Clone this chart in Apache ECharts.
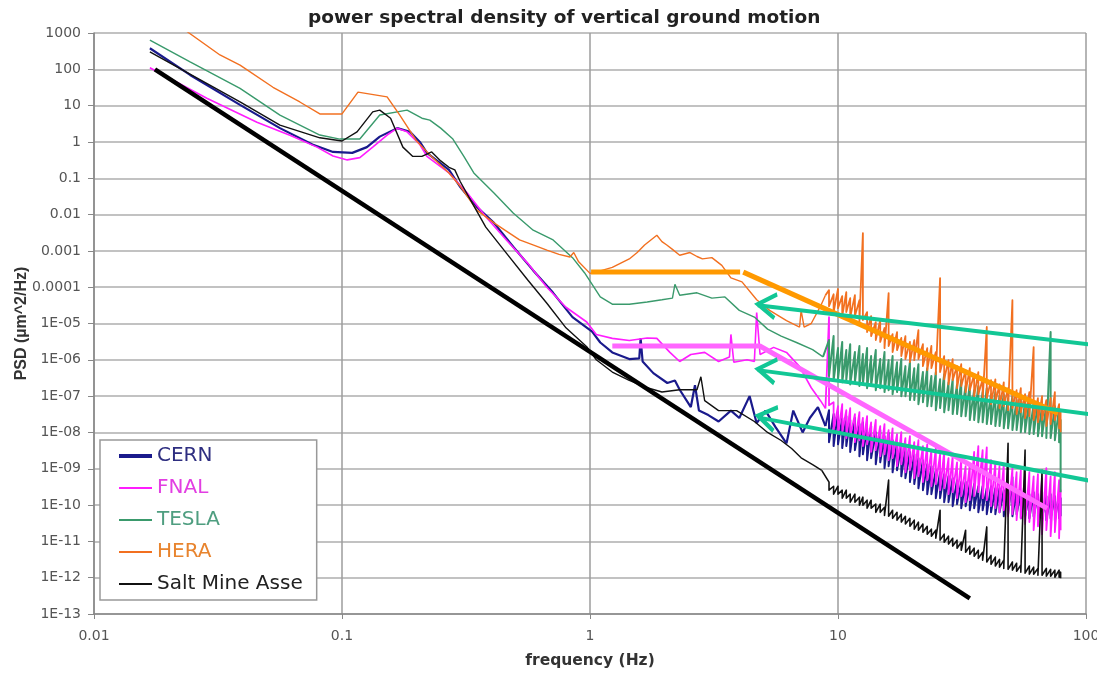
<!DOCTYPE html>
<html>
<head>
<meta charset="utf-8">
<script src="https://cdn.jsdelivr.net/npm/echarts@6/dist/echarts.min.js"></script>
<style>
html,body{margin:0;padding:0;background:#fff;}
#chart{width:1097px;height:674px;}
</style>
</head>
<body>
<div id="chart"></div>
<script>
// ---------- tick labels ----------
const xTickLabels = ['0.01', '0.1', '1', '10', '100'];
const yTickLabels = ['1E-13', '1E-12', '1E-11', '1E-10', '1E-09', '1E-08', '1E-07', '1E-06', '1E-05',
  '0.0001', '0.001', '0.01', '0.1', '1', '10', '100', '1000'];

// ---------- series names ----------
const seriesNames = ['CERN', 'FNAL', 'TESLA', 'HERA', 'Salt Mine Asse'];

// ---------- low-frequency part [frequency Hz, PSD µm^2/Hz] ----------
const cernLow = [[0.0168,380],[0.0244,70],[0.0388,10.5],[0.0562,2.4],[0.076,0.85],[0.092,0.53],[0.11,0.5],[0.126,0.72],[0.142,1.4],[0.167,2.4],[0.188,1.9],[0.206,1.0],[0.22,0.5],[0.27,0.17],[0.3,0.057],[0.35,0.016],[0.41,0.0059],[0.49,0.0013],[0.59,2.9e-4],[0.71,7e-5],[0.85,1.5e-5],[1.02,6e-6],[1.1,3e-6],[1.23,1.6e-6],[1.44,1.05e-6],[1.58,1.1e-6],[1.6,3.9e-6],[1.63,9e-7],[1.8,4.3e-7],[2.05,2.3e-7],[2.2,2.7e-7],[2.3,1.5e-7],[2.55,5e-8],[2.65,2e-7],[2.75,4e-8],[3.0,3e-8],[3.3,2e-8],[3.7,4e-8],[4.0,2.5e-8],[4.4,1e-7],[4.7,1.8e-8],[5.1,4e-8],[5.6,1.4e-8],[6.2,5e-9],[6.6,4e-8],[7.2,1e-8],[7.7,2.5e-8],[8.3,5e-8],[8.9,1.5e-8]];
const fnalLow = [[0.0168,110],[0.0285,16],[0.0454,3.5],[0.062,1.5],[0.0793,0.72],[0.092,0.41],[0.105,0.32],[0.118,0.37],[0.133,0.72],[0.152,1.55],[0.167,2.4],[0.183,1.9],[0.206,0.85],[0.22,0.4],[0.27,0.14],[0.32,0.039],[0.38,0.0087],[0.46,0.002],[0.56,4.6e-4],[0.67,1e-4],[0.8,2.8e-5],[0.97,1.1e-5],[1.06,5e-6],[1.23,3.9e-6],[1.44,3.4e-6],[1.7,4e-6],[1.86,3.9e-6],[2.1,1.6e-6],[2.3,9e-7],[2.55,1.4e-6],[2.9,1.6e-6],[3.3,9e-7],[3.65,1.2e-6],[3.7,5e-6],[3.8,8.6e-7],[4.3,1e-6],[4.6,9e-7],[4.7,2e-5],[4.85,1.4e-6],[5.5,2.2e-6],[6.2,1.6e-6],[7.0,6.5e-7],[7.8,1.7e-7],[8.5,7.5e-8],[8.9,4.6e-8]];
const teslaLow = [[0.0168,640],[0.0244,160],[0.0388,30],[0.0562,5.5],[0.0814,1.55],[0.098,1.2],[0.118,1.2],[0.142,5.5],[0.183,7.5],[0.21,4.5],[0.226,4],[0.25,2.4],[0.28,1.2],[0.31,0.4],[0.34,0.14],[0.41,0.039],[0.49,0.011],[0.59,0.0037],[0.71,0.002],[0.85,6.5e-4],[0.95,2.5e-4],[1.02,1.2e-4],[1.1,5.4e-5],[1.23,3.4e-5],[1.44,3.4e-5],[1.7,3.9e-5],[1.95,4.5e-5],[2.15,5e-5],[2.2,1.2e-4],[2.3,6e-5],[2.7,7e-5],[3.1,5e-5],[3.5,5.4e-5],[4.0,2.3e-5],[4.6,1.5e-5],[5.2,7e-6],[5.9,4.5e-6],[6.8,3e-6],[7.9,1.9e-6],[8.7,1.2e-6]];
const heraLow = [[0.0237,1100],[0.0322,248],[0.0388,131],[0.0527,32],[0.0676,12.6],[0.0814,5.9],[0.1,5.9],[0.116,23.6],[0.152,17.4],[0.171,5.5],[0.2,1.06],[0.226,0.44],[0.27,0.14],[0.3,0.06],[0.35,0.0132],[0.41,0.0059],[0.46,0.0035],[0.52,0.002],[0.6,0.0014],[0.67,0.00105],[0.75,0.0008],[0.83,0.00068],[0.86,0.0009],[0.9,0.0005],[1.0,0.00024],[1.1,0.00028],[1.23,0.00035],[1.44,0.0006],[1.55,0.0009],[1.66,0.00145],[1.86,0.0027],[1.95,0.0018],[2.04,0.00145],[2.15,0.0011],[2.3,0.00076],[2.53,0.0009],[2.7,0.0007],[2.84,0.0006],[3.1,0.00065],[3.4,0.0004],[3.7,0.00018],[4.1,0.00014],[4.7,4.5e-5],[5.3,2.3e-5],[6.2,1.2e-5],[7.0,8e-6],[7.1,2.3e-5],[7.3,8e-6],[7.8,1e-5],[8.5,3e-5],[8.9,6e-5]];
const saltLow = [[0.0168,300],[0.0388,12.6],[0.0562,2.9],[0.0814,1.3],[0.1,1.06],[0.115,1.9],[0.133,6.7],[0.142,7.5],[0.157,4.5],[0.176,0.72],[0.193,0.4],[0.21,0.4],[0.23,0.53],[0.25,0.3],[0.27,0.2],[0.285,0.17],[0.3,0.08],[0.33,0.025],[0.38,0.0045],[0.46,8.7e-4],[0.56,1.6e-4],[0.67,3.6e-5],[0.8,7.6e-6],[0.97,2.3e-6],[1.06,1e-6],[1.23,4.6e-7],[1.44,2.7e-7],[1.7,1.7e-7],[1.95,1.3e-7],[2.3,1.5e-7],[2.7,1.5e-7],[2.8,3.4e-7],[2.9,7.5e-8],[3.3,4e-8],[3.9,4e-8],[4.6,2e-8],[5.2,1e-8],[5.9,6e-9],[6.5,3.6e-9],[7.1,2e-9],[7.9,1.3e-9],[8.6,9e-10]];

// ---------- high-frequency noisy band: shared frequencies, upper and lower readings ----------
const noiseFreq = [9.2,9.6,10.0,10.4,10.8,11.2,11.7,12.2,12.6,13.1,13.6,14.2,14.8,15.4,16.0,16.6,17.3,18.0,18.7,19.5,20.3,21.1,22.0,22.9,23.8,24.8,25.8,26.8,27.9,29.0,30.2,31.4,32.7,34.0,35.4,36.8,38.3,39.8,41.4,43.1,44.8,46.6,48.5,50.5,52.5,54.6,56.8,59.1,61.5,64.0,66.5,69.2,72.0,74.9,77.9,79.0];

const cernUpper = [4.1e-8,3.2e-8,3.6e-8,2.5e-8,2.8e-8,2.2e-8,2.5e-8,1.7e-8,1.9e-8,1.3e-8,1.5e-8,1.02e-8,1.16e-8,7.9e-9,9.6e-9,6.1e-9,5.4e-9,4.2e-9,3.7e-9,2.9e-9,2.5e-9,1.96e-9,1.72e-9,1.33e-9,1.18e-9,9.1e-10,8.0e-10,7.1e-10,6.2e-10,5.5e-10,4.85e-10,4.3e-10,4.3e-10,3.8e-10,3.8e-10,3.3e-10,3.3e-10,2.9e-10,3.3e-10,2.9e-10,2.9e-10,2.57e-10,2.9e-10,5.8e-10,2.57e-10,2.26e-10,2.57e-10,2.0e-10,2.26e-10,2.0e-10,2.26e-10,1.76e-10,2.0e-10,1.76e-10,2.0e-10,1.55e-10];
const cernLower = [5.4e-9,4.2e-9,4.7e-9,3.7e-9,4.2e-9,2.9e-9,3.25e-9,2.2e-9,2.5e-9,1.72e-9,1.96e-9,1.33e-9,1.5e-9,1.04e-9,1.18e-9,8.0e-10,9.1e-10,6.2e-10,5.5e-10,4.3e-10,3.8e-10,2.9e-10,2.57e-10,2.0e-10,2.0e-10,1.55e-10,1.55e-10,1.2e-10,1.2e-10,9.3e-11,1.06e-10,8.2e-11,9.3e-11,7.2e-11,8.2e-11,6.3e-11,7.2e-11,5.6e-11,6.3e-11,5.6e-11,6.3e-11,4.9e-11,5.6e-11,4.9e-11,5.6e-11,4.3e-11,4.9e-11,4.3e-11,4.9e-11,3.84e-11,4.3e-11,3.84e-11,4.3e-11,3.84e-11,4.3e-11,4.9e-11];

const fnalUpper = [1.5e-5,6.8e-8,5.3e-8,6.0e-8,4.1e-8,4.7e-8,3.2e-8,3.6e-8,2.5e-8,2.8e-8,1.9e-8,2.2e-8,1.5e-8,1.7e-8,1.16e-8,1.3e-8,9.0e-9,1.02e-8,7.0e-9,7.9e-9,5.4e-9,6.1e-9,4.2e-9,4.7e-9,3.25e-9,3.7e-9,2.5e-9,2.9e-9,1.96e-9,2.2e-9,1.5e-9,1.72e-9,1.18e-9,1.33e-9,2.9e-9,4.2e-9,3.25e-9,3.9e-9,1.72e-9,1.5e-9,1.18e-9,1.33e-9,9.1e-10,1.04e-9,8.0e-10,9.1e-10,7.1e-10,8.0e-10,6.2e-10,7.1e-10,5.5e-10,1.04e-9,6.2e-10,8.0e-10,4.85e-10,2.57e-10];
const fnalLower = [5.6e-8,1.16e-8,9.0e-9,1.02e-8,7.0e-9,7.9e-9,5.4e-9,6.1e-9,4.2e-9,4.7e-9,2.9e-9,3.25e-9,2.2e-9,2.5e-9,1.72e-9,1.96e-9,1.18e-9,1.33e-9,8.0e-10,9.1e-10,5.5e-10,6.2e-10,4.3e-10,4.85e-10,3.3e-10,3.8e-10,2.57e-10,2.9e-10,2.0e-10,2.26e-10,1.55e-10,1.76e-10,1.2e-10,1.36e-10,1.76e-10,2.26e-10,1.55e-10,1.36e-10,9.3e-11,8.2e-11,6.3e-11,7.2e-11,4.9e-11,5.6e-11,3.84e-11,4.3e-11,3.0e-11,3.4e-11,2.03e-11,2.6e-11,1.58e-11,2.03e-11,1.39e-11,1.79e-11,1.22e-11,2.03e-11];

const teslaUpper = [3.5e-6,4.5e-6,2.1e-6,3.1e-6,1.85e-6,2.7e-6,1.63e-6,2.4e-6,1.44e-6,2.1e-6,1.27e-6,1.85e-6,1.05e-6,1.63e-6,9.8e-7,1.27e-6,8.6e-7,1.05e-6,6.7e-7,8.6e-7,5.9e-7,7.6e-7,4.6e-7,5.9e-7,3.6e-7,4.6e-7,2.9e-7,4.0e-7,2.4e-7,2.9e-7,2.1e-7,2.76e-7,1.9e-7,2.1e-7,1.46e-7,1.9e-7,1.29e-7,1.66e-7,1.13e-7,1.29e-7,1.0e-7,1.13e-7,8.8e-8,1.0e-7,7.8e-8,8.8e-8,6.8e-8,7.8e-8,6.0e-8,6.8e-8,5.3e-8,6.0e-8,5.8e-6,5.3e-8,4.7e-8,2.2e-8];
const teslaLower = [3.6e-7,2.76e-7,2.9e-7,2.4e-7,2.76e-7,2.1e-7,2.4e-7,1.9e-7,2.1e-7,1.66e-7,1.9e-7,1.46e-7,1.66e-7,1.29e-7,1.46e-7,1.13e-7,1.29e-7,1.0e-7,1.0e-7,7.8e-8,7.8e-8,6.0e-8,6.8e-8,5.3e-8,5.3e-8,4.1e-8,4.7e-8,3.6e-8,4.1e-8,3.2e-8,3.2e-8,2.8e-8,2.8e-8,2.2e-8,2.2e-8,1.9e-8,1.9e-8,1.7e-8,1.7e-8,1.5e-8,1.5e-8,1.3e-8,1.3e-8,1.16e-8,1.16e-8,1.02e-8,1.02e-8,9.0e-9,9.0e-9,7.9e-9,7.9e-9,7.0e-9,7.0e-9,6.1e-9,5.4e-9,2.26e-10];

const heraUpper = [8.3e-5,6.4e-5,8.9e-5,5.7e-5,7.3e-5,5.0e-5,6.0e-5,4.4e-5,3.1e-3,2.06e-5,1.6e-5,1.09e-5,1.24e-5,7.5e-6,6.9e-5,5.1e-6,5.8e-6,4.0e-6,4.5e-6,3.1e-6,3.5e-6,6.6e-6,2.7e-6,2.1e-6,2.4e-6,1.63e-6,1.78e-4,1.27e-6,9.8e-7,1.05e-6,6.7e-7,7.6e-7,5.2e-7,5.9e-7,4.0e-7,4.6e-7,2.9e-7,8.0e-6,2.76e-7,2.9e-7,2.1e-7,2.4e-7,1.66e-7,4.4e-5,1.46e-7,1.66e-7,1.13e-7,1.29e-7,2.24e-6,8.8e-8,1.0e-7,7.8e-8,8.8e-8,1.29e-7,6.0e-8,4.1e-8];
const heraLower = [3.0e-5,2.06e-5,2.65e-5,1.6e-5,2.06e-5,1.5e-5,1.6e-5,1.09e-5,1.24e-5,5.8e-6,4.5e-6,3.5e-6,3.1e-6,2.1e-6,2.4e-6,1.63e-6,1.85e-6,1.27e-6,1.05e-6,8.6e-7,9.8e-7,1.05e-6,6.7e-7,5.2e-7,5.9e-7,4.0e-7,4.6e-7,2.9e-7,2.1e-7,2.76e-7,1.66e-7,1.9e-7,1.29e-7,1.46e-7,1.0e-7,1.13e-7,7.8e-8,8.8e-8,6.0e-8,6.8e-8,4.7e-8,5.3e-8,4.1e-8,4.7e-8,3.2e-8,3.6e-8,2.5e-8,2.8e-8,2.2e-8,1.9e-8,2.2e-8,1.5e-8,1.7e-8,2.2e-8,1.3e-8,1.02e-8];

const saltUpper = [4.3e-10,3.3e-10,3.3e-10,2.57e-10,2.57e-10,2.0e-10,2.0e-10,1.65e-10,1.65e-10,1.36e-10,1.36e-10,1.06e-10,1.06e-10,8.7e-11,4.85e-10,7.2e-11,6.3e-11,5.6e-11,4.9e-11,4.3e-11,3.84e-11,3.4e-11,3.0e-11,2.6e-11,2.17e-11,2.03e-11,7.2e-11,1.58e-11,1.39e-11,1.22e-11,1.08e-11,9.5e-12,2.03e-11,7.4e-12,6.5e-12,5.7e-12,5.0e-12,2.5e-11,4.1e-12,3.7e-12,3.2e-12,3.03e-12,5.0e-9,2.7e-12,2.5e-12,2.2e-12,3.25e-9,2.1e-12,1.95e-12,1.8e-12,9.1e-10,1.8e-12,1.7e-12,1.61e-12,1.61e-12,1.42e-12];
const saltLower = [2.57e-10,2.0e-10,2.0e-10,1.55e-10,1.55e-10,1.2e-10,1.2e-10,9.9e-11,9.9e-11,8.2e-11,8.2e-11,6.3e-11,6.3e-11,5.2e-11,4.9e-11,4.3e-11,3.84e-11,3.4e-11,3.0e-11,2.6e-11,2.17e-11,2.03e-11,1.79e-11,1.58e-11,1.39e-11,1.22e-11,1.08e-11,9.5e-12,8.4e-12,7.4e-12,6.5e-12,5.7e-12,5.0e-12,4.4e-12,3.9e-12,3.4e-12,3.03e-12,2.7e-12,2.35e-12,2.1e-12,1.95e-12,1.8e-12,1.7e-12,1.61e-12,1.51e-12,1.42e-12,1.33e-12,1.25e-12,1.25e-12,1.17e-12,1.17e-12,1.1e-12,1.1e-12,1.03e-12,1.03e-12,9.7e-13];

// ---------- hand-drawn annotations ----------
const refLine = [[0.0176, 100], [34, 2.7e-13]];
const heraFlat = [[1.01, 2.6e-4], [4.03, 2.6e-4]];
const heraSlope = [[4.15, 2.6e-4], [77, 3.4e-8]];
const fnalModel = [[1.23, 2.4e-6], [4.84, 2.4e-6], [69.7, 8.1e-11]];
const arrowTop = [[110.7, 2.5e-6], [4.75, 3.2e-5]];
const arrowMid = [[110.7, 3.0e-8], [4.75, 5.2e-7]];
const arrowLow = [[110.7, 4.3e-10], [4.75, 2.6e-8]];

// ---------- styling ----------
const seriesColors = ['#1a1a8c', '#ff1dff', '#3a9a6c', '#f27020', '#111111'];
const legendTextColors = ['#2e2e80', '#e23ee2', '#4f9e80', '#e8842e', '#222222'];
const legendLineWidths = [4, 2, 2, 2, 2];
const lowWidths = [2.2, 1.6, 1.4, 1.4, 1.4];
const highWidths = [2.0, 1.8, 2.0, 1.8, 1.6];
const arrowColor = '#12c795';

const lowSets = [cernLow, fnalLow, teslaLow, heraLow, saltLow];
const upperSets = [cernUpper, fnalUpper, teslaUpper, heraUpper, saltUpper];
const lowerSets = [cernLower, fnalLower, teslaLower, heraLower, saltLower];

const series = [];
seriesNames.forEach((name, i) => {
  series.push({
    name: name, type: 'line', data: lowSets[i], symbol: 'none', silent: true,
    lineStyle: { color: seriesColors[i], width: lowWidths[i] },
    itemStyle: { color: seriesColors[i] }, z: 2 + i
  });
});
seriesNames.forEach((name, i) => {
  const low = lowSets[i];
  const band = [low[low.length - 1]];
  noiseFreq.forEach((f, k) => {
    band.push([f, upperSets[i][k]]);
    band.push([f, lowerSets[i][k]]);
  });
  series.push({
    name: name, type: 'line', data: band, symbol: 'none', silent: true,
    lineStyle: { color: seriesColors[i], width: highWidths[i], join: 'round' },
    itemStyle: { color: seriesColors[i] }, z: 2 + i
  });
});

function annot(data, color, width) {
  return { type: 'line', data: data, symbol: 'none', silent: true, z: 10,
    lineStyle: { color: color, width: width, cap: 'butt' }, itemStyle: { color: color } };
}
series.push(annot(refLine, '#000000', 4.5));
series.push(annot(heraFlat, '#ff9900', 5));
series.push(annot(heraSlope, '#ff9900', 5));
series.push(annot(fnalModel, '#ff66ff', 5));

const chevron = 'path://M20,0 L0,12 L20,24';
function arrow(data, rot) {
  return {
    type: 'line', silent: true, clip: false, z: 11,
    showSymbol: true, showAllSymbol: true,
    symbol: chevron, symbolSize: [18, 24],
    lineStyle: { color: arrowColor, width: 4 },
    itemStyle: { color: 'rgba(0,0,0,0)', borderColor: arrowColor, borderWidth: 4 },
    data: [
      { value: data[0], symbol: 'none' },
      { value: data[1], symbolRotate: rot, symbolOffset: [9, 0] }
    ]
  };
}
series.push(arrow(arrowTop, -6.7));
series.push(arrow(arrowMid, -7.6));
series.push(arrow(arrowLow, -10.9));

const chart = echarts.init(document.getElementById('chart'), null, { renderer: 'canvas' });
chart.setOption({
  animation: false,
  backgroundColor: '#ffffff',
  title: {
    text: 'power spectral density of vertical ground motion',
    left: 308, top: 9, padding: 0,
    textStyle: { fontFamily: 'DejaVu Sans', fontWeight: 'bold', fontSize: 18.5, color: '#222' }
  },
  grid: { left: 94, right: 11, top: 33, bottom: 60, containLabel: false, outerBoundsMode: 'none' },
  legend: {
    orient: 'vertical', left: 100, top: 440,
    padding: [6, 14, 6, 17], itemGap: 12, itemWidth: 33, itemHeight: 14,
    backgroundColor: '#ffffff', borderColor: '#999', borderWidth: 1.5,
    itemStyle: { opacity: 0 },
    textStyle: { fontFamily: 'DejaVu Sans', fontSize: 20 },
    data: seriesNames.map((n, i) => ({
      name: n, textStyle: { color: legendTextColors[i] },
      lineStyle: { width: legendLineWidths[i], opacity: 1 },
      itemStyle: { opacity: 0 }
    }))
  },
  xAxis: {
    type: 'log', logBase: 10, min: 0.01, max: 100,
    name: 'frequency (Hz)', nameLocation: 'middle', nameGap: 39, nameMoveOverlap: false,
    nameTextStyle: { fontFamily: 'DejaVu Sans', fontWeight: 'bold', fontSize: 15.5, color: '#333' },
    axisLine: { show: true, lineStyle: { color: '#888', width: 1.5 } },
    axisTick: { show: true, length: 5, lineStyle: { color: '#888' } },
    splitLine: { show: true, lineStyle: { color: '#9c9c9c', width: 1.5 } },
    axisLabel: {
      margin: 15, color: '#555', fontFamily: 'DejaVu Sans', fontSize: 14,
      formatter: v => xTickLabels[Math.round(Math.log10(v)) + 2]
    }
  },
  yAxis: {
    type: 'log', logBase: 10, min: 1e-13, max: 1000, interval: 1,
    name: 'PSD (µm^2/Hz)', nameLocation: 'middle', nameGap: 64, nameMoveOverlap: false,
    nameTextStyle: { fontFamily: 'Liberation Sans', fontWeight: 'bold', fontSize: 16, color: '#333' },
    axisLine: { show: true, lineStyle: { color: '#888', width: 1.5 } },
    axisTick: { show: true, length: 6, lineStyle: { color: '#888' } },
    splitLine: { show: true, lineStyle: { color: '#c2c2c2', width: 2 } },
    axisLabel: {
      margin: 13, color: '#555', fontFamily: 'DejaVu Sans', fontSize: 14,
      formatter: v => yTickLabels[Math.round(Math.log10(v)) + 13]
    }
  },
  series: series
});
</script>
</body>
</html>
